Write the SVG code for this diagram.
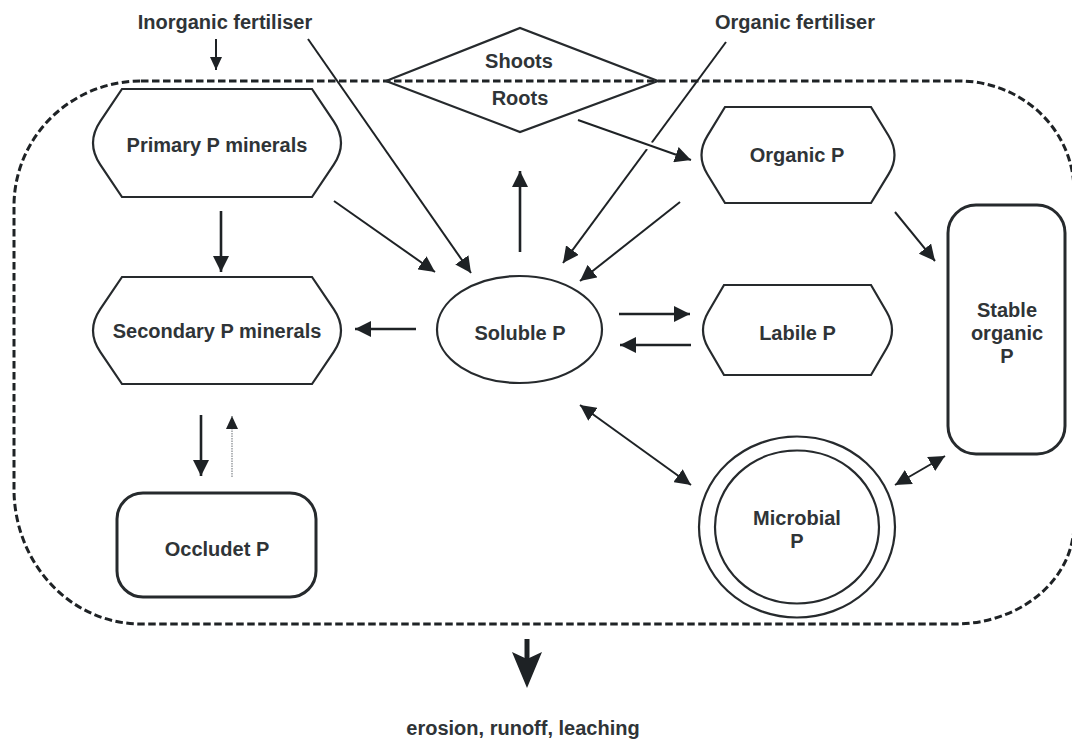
<svg xmlns="http://www.w3.org/2000/svg" width="1072" height="740" viewBox="0 0 1072 740">
<style>
text{font-family:"Liberation Sans",Arial,sans-serif;font-weight:bold;font-size:20px;fill:#2f3437;text-anchor:middle}
.n{fill:#fff;stroke:#262a2d;stroke-width:2.2}
.r{fill:#fff;stroke:#262a2d;stroke-width:3}
.a{fill:none;stroke:#1e2225;stroke-width:2;marker-end:url(#ah)}
.b{fill:none;stroke:#1e2225;stroke-width:2;marker-start:url(#ah);marker-end:url(#ah)}
.v{fill:none;stroke:#1e2225;stroke-width:2.6;marker-end:url(#ah)}
.bd{fill:none;stroke:#1e2225;stroke-width:3;stroke-dasharray:7.5 3.5}
</style>
<defs>
<marker id="ah" viewBox="0 0 16 16" refX="16" refY="8" markerWidth="16" markerHeight="16" markerUnits="userSpaceOnUse" orient="auto-start-reverse">
<path d="M0,0 L16,8 L0,16 Z" fill="#1e2225"/>
</marker>
<marker id="as" viewBox="0 0 13 12" refX="13" refY="6" markerWidth="13" markerHeight="12" markerUnits="userSpaceOnUse" orient="auto">
<path d="M0,0 L13,6 L0,12 Z" fill="#1e2225"/>
</marker>
</defs>
<g id="boundary">
<path class="bd" d="M141,81 H959 A115,110 0 0 1 1074,191 V524 A119,100 0 0 1 955,624 H141 A127,135 0 0 1 14,489 V206 A127,125 0 0 1 141,81 Z"/>
</g>
<g id="shoots-roots">
<path class="n" style="fill:none" d="M386,81 L520,28 L658,81 L520,132 Z"/>
<text x="519" y="68">Shoots</text>
<text x="520" y="105">Roots</text>
</g>
<g id="inorganic-fertiliser"><text x="225" y="29">Inorganic fertiliser</text></g>
<g id="organic-fertiliser"><text x="795" y="29">Organic fertiliser</text></g>
<g id="primary">
<path class="n" d="M122,89 H312 L333.75,121.4 Q348.25,143 333.75,164.6 L312,197 H122 L100.25,164.6 Q85.75,143 100.25,121.4 Z"/>
<text x="217" y="152">Primary P minerals</text>
</g>
<g id="secondary">
<path class="n" d="M122,277 H312 L333.75,309.1 Q348.25,330.5 333.75,351.9 L312,384 H122 L100.25,351.9 Q85.75,330.5 100.25,309.1 Z"/>
<text x="217" y="338">Secondary P minerals</text>
</g>
<g id="soluble">
<ellipse class="n" cx="519.5" cy="329.5" rx="82.5" ry="53.5"/>
<text x="520" y="340">Soluble P</text>
</g>
<g id="organic">
<path class="n" d="M725,107 H871 L888.6,135.8 Q900.4,155 888.6,174.2 L871,203 H725 L707.4,174.2 Q695.6,155 707.4,135.8 Z"/>
<text x="797" y="161.5">Organic P</text>
</g>
<g id="labile">
<path class="n" d="M724,285 H871 L886.75,312 Q897.25,330 886.75,348 L871,375 H724 L708.25,348 Q697.75,330 708.25,312 Z"/>
<text x="797.5" y="340">Labile P</text>
</g>
<g id="stable">
<rect class="r" x="948" y="205" width="117" height="249" rx="28"/>
<text x="1007" y="316.5">Stable</text>
<text x="1007" y="340">organic</text>
<text x="1007" y="362.5">P</text>
</g>
<g id="microbial">
<ellipse class="n" cx="797" cy="527" rx="98" ry="90.5"/>
<ellipse class="n" cx="797" cy="527" rx="82" ry="76.5"/>
<text x="797" y="525">Microbial</text>
<text x="797" y="547.5">P</text>
</g>
<g id="occluded">
<rect class="r" x="117" y="493" width="199" height="104" rx="26"/>
<text x="217" y="555.5">Occludet P</text>
</g>
<g id="losses"><text x="523" y="735">erosion, runoff, leaching</text></g>
<g id="connectors">
<line x1="216" y1="39" x2="216" y2="70" stroke="#1e2225" stroke-width="2" marker-end="url(#as)"/>
<line class="a" x1="308" y1="39" x2="471" y2="273"/>
<line class="a" x1="726" y1="42" x2="563" y2="263"/>
<line x1="625" y1="137" x2="672" y2="154" stroke="#fff" stroke-width="8"/>
<line class="a" x1="578" y1="120" x2="691" y2="160"/>
<line class="v" x1="520" y1="252" x2="520" y2="171"/>
<line class="a" x1="334" y1="201" x2="435" y2="272"/>
<line class="a" x1="680" y1="202" x2="580" y2="281"/>
<line class="a" x1="895" y1="212" x2="935" y2="261"/>
<line class="v" x1="221" y1="211" x2="221" y2="272"/>
<line class="v" x1="416" y1="329" x2="355" y2="329"/>
<line class="v" x1="619" y1="314" x2="690" y2="314"/>
<line class="v" x1="691" y1="345" x2="620" y2="345"/>
<line class="b" x1="580" y1="405" x2="691" y2="485"/>
<line class="b" x1="895" y1="485" x2="945" y2="456"/>
<line class="v" x1="201" y1="415" x2="201" y2="476"/>
<line x1="232" y1="477" x2="232" y2="416" stroke="#8a8f93" stroke-width="1.3" stroke-dasharray="1.5 1" marker-end="url(#as)"/>
<line x1="527" y1="639" x2="527" y2="662" stroke="#1e2225" stroke-width="5"/>
<path d="M512,652 L527,659 L542,652 L527,688 Z" fill="#1e2225"/>
</g>
</svg>
